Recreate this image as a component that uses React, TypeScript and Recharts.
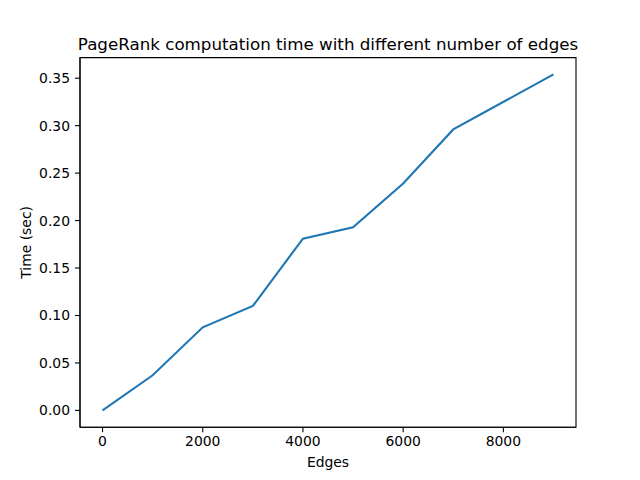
import { LineChart, Line, XAxis, YAxis, ReferenceArea } from "recharts";

const edges = [0, 1000, 2000, 3000, 4000, 5000, 6000, 7000, 9000];
const times = [0.0, 0.037, 0.0875, 0.11, 0.181, 0.193, 0.239, 0.296, 0.354];

const xTicks = [0, 2000, 4000, 6000, 8000];
const yTicks = [0, 0.05, 0.1, 0.15, 0.2, 0.25, 0.3, 0.35];

const titleText = "PageRank computation time with different number of edges";
const xLabel = "Edges";
const yLabel = "Time (sec)";

// matplotlib-style 5% padding around the data
const xDomain = [-450, 9450];
const yDomain = [-0.0177, 0.3717];

const font = "DejaVu Sans, sans-serif";

export default function App() {
  const data = edges.map((e, i) => ({ edges: e, time: times[i] }));

  return (
    <div style={{ position: "absolute", left: 0, top: 0, width: 640, height: 480, background: "#fff" }}>
      <LineChart
        width={640}
        height={480}
        data={data}
        margin={{ top: 57.6, right: 64, bottom: 0, left: 0 }}
        style={{ fontFamily: font }}
      >
        <XAxis
          dataKey="edges"
          type="number"
          domain={xDomain}
          allowDataOverflow
          ticks={xTicks}
          height={52.8}
          tickSize={5}
          tickMargin={4}
          stroke="#000"
          strokeWidth={1.1}
          tick={{ fill: "#000", fontSize: 13.9, fontFamily: font }}
          label={{ value: xLabel, position: "insideBottom", offset: 13.5, fill: "#000", fontSize: 13.9, fontFamily: font }}
        />
        <YAxis
          type="number"
          domain={yDomain}
          allowDataOverflow
          ticks={yTicks}
          width={80}
          tickSize={5}
          tickMargin={5}
          stroke="#000"
          strokeWidth={1.1}
          tickFormatter={(v: number) => v.toFixed(2)}
          tick={{ fill: "#000", fontSize: 13.9, fontFamily: font }}
          label={{
            value: yLabel,
            angle: -90,
            position: "insideLeft",
            offset: 26.5,
            textAnchor: "middle",
            fill: "#000",
            fontSize: 13.9,
            fontFamily: font,
          }}
        />
        <ReferenceArea
          x1={xDomain[0]}
          x2={xDomain[1]}
          y1={yDomain[0]}
          y2={yDomain[1]}
          fill="none"
          stroke="#000"
          strokeWidth={1.1}
          fillOpacity={0}
        />
        <Line
          type="linear"
          dataKey="time"
          stroke="#1f77b4"
          strokeWidth={2.1}
          dot={false}
          activeDot={false}
          isAnimationActive={false}
        />
      </LineChart>
      <svg
        width={640}
        height={480}
        style={{ position: "absolute", left: 0, top: 0, pointerEvents: "none" }}
      >
        <text x={328} y={50} textAnchor="middle" fontSize={16.7} fontFamily={font} fill="#000">
          {titleText}
        </text>
      </svg>
    </div>
  );
}
